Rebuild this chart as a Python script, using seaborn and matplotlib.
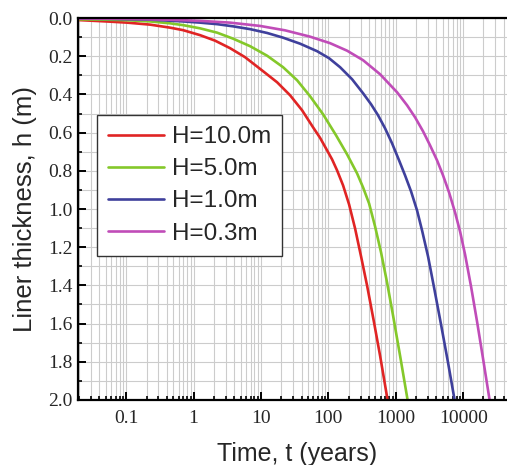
import numpy as np
import pandas as pd
import matplotlib
matplotlib.use("Agg")
import matplotlib.pyplot as plt
import matplotlib.ticker as mticker
import seaborn as sns

# values (t in years, h in m)
t_h10 = [0.01933, 0.0577, 0.1031, 0.2263, 0.448, 0.6986, 1.2485, 2.0845, 3.4797, 5.808,
         10.745, 17.34, 27.03, 40.73, 59.29, 75.32, 95.67, 113.5, 134.7, 165.3,
         202.9, 249.1, 305.6, 375.2, 476.6, 585.1, 755.5]
h_h10 = [0.010, 0.0184, 0.0236, 0.0341, 0.0499, 0.063, 0.0892, 0.1181, 0.1575, 0.2047,
         0.2782, 0.336, 0.4042, 0.4829, 0.5722, 0.6273, 0.6929, 0.7402, 0.7979, 0.8766,
         0.9764, 1.1024, 1.2493, 1.4016, 1.5958, 1.769, 2.0]

t_h5 = [0.01933, 0.0577, 0.1031, 0.2263, 0.448, 0.6986, 1.2485, 2.232, 3.856, 6.892,
        12.32, 21.28, 34.33, 53.52, 83.44, 130.1, 189.5, 266.6, 327.2, 401.7,
        493.1, 605.2, 743.0, 912.0, 1158.5, 1496.5]
h_h5 = [0.0063, 0.0084, 0.011, 0.0173, 0.0273, 0.0367, 0.0535, 0.0761, 0.1076, 0.147,
        0.1969, 0.2572, 0.3255, 0.4094, 0.5039, 0.6142, 0.7139, 0.8136, 0.8871, 0.9711,
        1.0919, 1.2283, 1.3858, 1.5591, 1.769, 2.0]

t_h1 = [0.01933, 0.0577, 0.2263, 0.6986, 1.2485, 2.232, 3.856, 6.892, 12.32, 21.28,
        38.03, 67.99, 102.4, 149.2, 224.7, 327.2, 430.2, 546.3, 693.7, 881.5,
        1119.4, 1374, 1686.6, 2070.5, 2456.6, 3015, 3701, 4700, 5970, 7456]
h_h1 = [0.0026, 0.0042, 0.0079, 0.0173, 0.0236, 0.0315, 0.043, 0.0577, 0.0777, 0.1024,
        0.1339, 0.1732, 0.21, 0.2572, 0.3202, 0.3937, 0.4514, 0.5092, 0.5774, 0.6562,
        0.7454, 0.8241, 0.9081, 1.0079, 1.1129, 1.2493, 1.4121, 1.6063, 1.8058, 2.0]

t_h03 = [0.01933, 0.1031, 0.448, 1.2485, 3.4797, 9.698, 22.79, 53.52, 106.0, 189.5,
         327.2, 585.1, 1045.4, 1471.5, 1933.8, 2541.8, 3228, 4101, 5032, 6179,
         7585, 8997, 10673, 13101, 16083, 19739, 24650]
h_h03 = [0.0016, 0.0037, 0.0084, 0.0142, 0.0236, 0.0409, 0.064, 0.0971, 0.1312, 0.1706,
         0.2205, 0.294, 0.3885, 0.4567, 0.5197, 0.5932, 0.6667, 0.7454, 0.8241, 0.9134,
         1.0184, 1.1181, 1.2388, 1.4068, 1.5906, 1.7848, 2.0]

labels = ["H=10.0m", "H=5.0m", "H=1.0m", "H=0.3m"]
colors = ["#e02424", "#84c82a", "#3f409c", "#c04cb8"]

xtick_vals = [0.1, 1, 10, 100, 1000, 10000]
xtick_labels = ["0.1", "1", "10", "100", "1000", "10000"]
ytick_vals = [0.0, 0.2, 0.4, 0.6, 0.8, 1.0, 1.2, 1.4, 1.6, 1.8, 2.0]

frames = []
for lab, t, h in zip(labels, [t_h10, t_h5, t_h1, t_h03], [h_h10, h_h5, h_h1, h_h03]):
    frames.append(pd.DataFrame({"t": t, "h": h, "case": lab}))
df = pd.concat(frames, ignore_index=True)

sns.set_theme(style="white")
plt.rcParams["font.family"] = ["Liberation Sans", "DejaVu Sans"]

fig = plt.figure(figsize=(5.07, 4.65), dpi=100)
ax = fig.add_axes([0.154, 0.140, 0.846, 0.821])

sns.lineplot(data=df, x="t", y="h", hue="case", palette=colors, sort=False,
             estimator=None, linewidth=1.9, ax=ax, legend=False)
for ln in ax.get_lines():
    ln.set_solid_joinstyle("round")

ax.set_xscale("log")
ax.set_xlim(0.0193, 44700)
ax.set_ylim(2.0, 0.0)

ax.xaxis.set_minor_locator(mticker.LogLocator(base=10, subs=np.arange(2, 10), numticks=20))
ax.xaxis.set_minor_formatter(mticker.NullFormatter())
ax.yaxis.set_minor_locator(mticker.MultipleLocator(0.1))

ax.grid(True, which="both", color="#cccccc", linewidth=0.8)
ax.set_axisbelow(True)

for side in ["left", "bottom", "top"]:
    ax.spines[side].set_color("black")
    ax.spines[side].set_linewidth(1.6)
ax.spines["right"].set_visible(False)

ax.tick_params(axis="both", which="major", direction="in", length=6, width=1.4,
               color="black", bottom=True, left=True, top=False, right=False)
ax.tick_params(axis="both", which="minor", direction="in", length=3, width=1.2,
               color="black", bottom=True, left=True, top=False, right=False)
ax.tick_params(axis="x", which="major", pad=7)
ax.tick_params(axis="y", which="major", pad=4)

# serif tick labels like the original
ax.set_xticks(xtick_vals)
ax.set_xticklabels(xtick_labels, fontfamily="Liberation Serif", fontsize=14)
ax.set_yticks(ytick_vals)
ax.set_yticklabels([f"{v:.1f}" for v in ytick_vals], fontfamily="Liberation Serif", fontsize=14)

ax.set_xlabel("Time, t (years)", fontsize=18)
ax.set_ylabel("Liner thickness, h (m)", fontsize=18.5)
ax.xaxis.set_label_coords(0.51, -0.11)
ax.yaxis.set_label_coords(-0.096, 0.5)

handles = [plt.Line2D([], [], color=c, linewidth=1.9) for c in colors]
leg = ax.legend(handles, labels, loc="upper left", bbox_to_anchor=(0.044, 0.746),
                borderaxespad=0, fontsize=17.5, frameon=True, fancybox=False,
                handlelength=2.3, handletextpad=0.35, labelspacing=0.42,
                borderpad=0.45)
leg.get_frame().set_edgecolor("#333333")
leg.get_frame().set_linewidth(1.0)
leg.get_frame().set_alpha(1.0)

fig.savefig("out.png", dpi=100)
